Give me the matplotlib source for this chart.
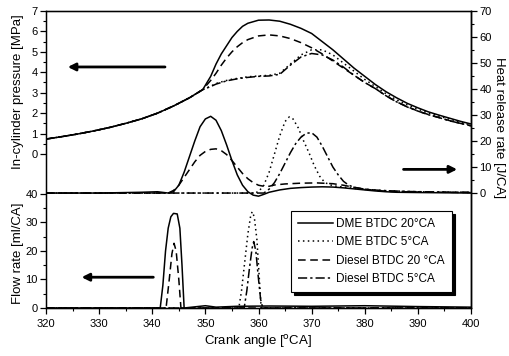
import numpy as np
import matplotlib.pyplot as plt

plt.rcParams['font.family'] = ['Liberation Sans', 'DejaVu Sans']
plt.rcParams['font.size'] = 8

labels = ['DME BTDC 20°CA', 'DME BTDC 5°CA', 'Diesel BTDC 20 °CA', 'Diesel BTDC 5°CA']

# in-cylinder pressure [MPa], compression part common to all runs
p_comp_x = [320, 323, 326, 329, 332, 335, 338, 341, 344, 347, 349.5]
p_comp = [0.73, 0.85, 0.98, 1.13, 1.3, 1.5, 1.72, 2.0, 2.35, 2.75, 3.15]

p_comb_x = [351, 352, 353, 354, 355, 356, 357, 358, 360, 362, 364, 366, 368, 370, 372,
            374, 376, 378, 380, 382, 384, 386, 388, 390, 392, 394, 396, 398, 400]
p_dme20 = [3.8, 4.4, 4.9, 5.3, 5.7, 6.0, 6.25, 6.4, 6.55, 6.56, 6.5, 6.35, 6.15, 5.9, 5.5,
           5.1, 4.65, 4.2, 3.8, 3.4, 3.05, 2.75, 2.48, 2.26, 2.06, 1.9, 1.75, 1.6, 1.47]
p_dme5 = [3.32, 3.45, 3.53, 3.6, 3.66, 3.7, 3.74, 3.78, 3.82, 3.85, 3.95, 4.4, 4.85, 5.1, 5.1,
          4.85, 4.45, 4.05, 3.65, 3.3, 2.95, 2.65, 2.4, 2.2, 2.0, 1.85, 1.7, 1.55, 1.42]
p_die20 = [3.6, 3.95, 4.35, 4.7, 5.0, 5.25, 5.45, 5.6, 5.78, 5.83, 5.78, 5.65, 5.45, 5.2, 4.9,
           4.55, 4.2, 3.85, 3.5, 3.2, 2.85, 2.55, 2.32, 2.1, 1.93, 1.78, 1.63, 1.5, 1.38]
p_die5 = [3.3, 3.42, 3.5, 3.58, 3.63, 3.68, 3.72, 3.75, 3.8, 3.82, 3.9, 4.35, 4.75, 4.92, 4.85,
          4.6, 4.25, 3.85, 3.5, 3.2, 2.85, 2.55, 2.3, 2.1, 1.92, 1.78, 1.62, 1.5, 1.38]

# heat release rate [J/CA]
h_dme20_x = [320, 330, 338, 341, 343, 344, 345, 346, 347, 348, 349, 350, 351, 352, 353, 354, 355,
             356, 357, 358, 359, 360, 361, 362, 364, 366, 368, 370, 372, 374, 376, 378, 380,
             382, 384, 386, 390, 400]
h_dme20 = [0, 0, 0.3, 0.5, 0, 0.5, 3, 8, 14, 20, 25.5, 28.5, 29.5, 28, 24, 18.5, 12.5,
           7, 3, 0.5, -0.8, -1.2, -0.5, 0.3, 1.2, 1.8, 2.1, 2.3, 2.4, 2.3, 2.0, 1.6, 1.2,
           0.8, 0.5, 0.3, 0.2, 0]
h_die20_x = [320, 343, 344, 345, 346, 347, 348, 349, 350, 351, 352, 353, 354, 355, 356, 357,
             358, 359, 360, 361, 362, 363, 365, 368, 371, 374, 376, 378, 380, 382, 385, 390,
             395, 400]
h_die20 = [0, 0, 1, 3, 6, 9, 12, 14.5, 16, 16.8, 17, 16.3, 14.8, 12.5, 10, 7.5,
           5.5, 4, 3, 2.6, 2.6, 3.1, 3.5, 3.8, 3.9, 3.6, 3.0, 2.2, 1.5, 1.0, 0.6, 0.4,
           0.3, 0.2]
h_dme5_x = [320, 359, 360, 361, 362, 363, 364, 365, 365.8, 366.5, 367.5, 368.5, 369.5, 370.5,
            371.5, 372.5, 374, 376, 378, 380, 384, 390, 400]
h_dme5 = [0, 0, 0.5, 3, 8, 15, 22, 27.5, 29.3, 28.5, 25, 20, 15.5, 10.5,
          6.5, 4, 2.8, 2.3, 1.8, 1.4, 0.9, 0.5, 0.2]
h_die5_x = [320, 361, 362, 363, 364, 365, 366, 367, 368, 369, 370, 371, 372, 373, 374, 375,
            376, 377, 378, 380, 383, 388, 394, 400]
h_die5 = [0, 0, 1.5, 4, 7.5, 11.5, 15.5, 19, 21.5, 23, 23.2, 21.5, 18, 14, 10, 7,
          4.5, 3, 2.2, 1.5, 1, 0.6, 0.4, 0.3]

# injection flow rate [ml/CA]
f_dme20_x = [320, 341.5, 342, 342.5, 343, 343.5, 344, 344.7, 345.2, 345.6, 346, 350, 352,
             356, 362, 370, 380, 390, 400]
f_dme20 = [0, 0, 8, 20, 28, 32, 33.2, 33, 28, 15, 0, 0.8, 0.3, 0.6, 0.7, 0.6, 0.8, 0.5, 0.3]
f_die20_x = [320, 342.6, 343.2, 343.7, 344.1, 344.5, 345, 345.4, 400]
f_die20 = [0, 0, 10, 19, 22.7, 20, 10, 0, 0]
f_dme5_x = [320, 356.3, 356.8, 357.4, 358, 358.5, 358.8, 359.2, 359.7, 360.1, 360.5, 400]
f_dme5 = [0, 0, 6, 16, 26, 32, 33.8, 32, 24, 12, 0, 0]
f_die5_x = [320, 357.3, 357.8, 358.3, 358.8, 359.1, 359.5, 359.9, 360.4, 360.8, 400]
f_die5 = [0, 0, 6, 14, 21, 23.3, 20, 12, 3, 0, 0]

styles = ['-', (0, (1, 2.2)), (0, (5, 3)), (0, (6, 2, 1.5, 2))]
k = 'black'
lw = 1.1

fig = plt.figure(figsize=(5.1, 3.56), dpi=100)
ax = fig.add_axes([46 / 510, 48 / 356, 425 / 510, 297 / 356])
axf = ax.twinx()
axh = ax.twinx()
axf.yaxis.set_ticks_position('left')
axf.spines['left'].set_visible(False)

ax.set_xlim(320, 400)
ax.set_ylim(-7.54, 7)
axf.set_ylim(0, 104.2)
axh.set_ylim(-44.2, 70)

# pressure
for vals, ls in zip([p_dme20, p_dme5, p_die20, p_die5], styles):
    xx = np.concatenate([p_comp_x, p_comb_x])
    yy = np.concatenate([p_comp, vals])
    ax.plot(xx, yy, color=k, lw=lw, linestyle=ls)

# heat release
for xx, yy, ls in zip([h_dme20_x, h_dme5_x, h_die20_x, h_die5_x],
                      [h_dme20, h_dme5, h_die20, h_die5], styles):
    axh.plot(xx, yy, color=k, lw=lw, linestyle=ls)

# flow rate
handles = []
for xx, yy, ls, lab in zip([f_dme20_x, f_dme5_x, f_die20_x, f_die5_x],
                           [f_dme20, f_dme5, f_die20, f_die5], styles, labels):
    l, = axf.plot(xx, yy, color=k, lw=lw, linestyle=ls, label=lab)
    handles.append(l)

# ticks
ax.set_xticks(np.arange(320, 401, 10))
ax.set_xticks(np.arange(320, 401, 5), minor=True)
ax.set_yticks(np.arange(0, 8, 1))
ax.set_yticks(np.arange(0, 7.1, 0.5), minor=True)
axf.set_yticks(np.arange(0, 41, 10))
axf.set_yticks(np.arange(0, 41, 5), minor=True)
axh.set_yticks(np.arange(0, 71, 10))
axh.set_yticks(np.arange(0, 71, 5), minor=True)
for a in (ax, axf, axh):
    a.tick_params(which='major', direction='out', length=4, width=0.9, labelsize=8, pad=2)
    a.tick_params(which='minor', direction='out', length=2, width=0.8)
ax.tick_params(axis='x', pad=4)
ax.tick_params(axis='x', which='both', top=False)
for s in ax.spines.values():
    s.set_linewidth(1.0)
axh.spines['right'].set_linewidth(1.0)

# axis labels
fig.text(258 / 510, 1 - 341 / 356, 'Crank angle [$^\\mathrm{o}$CA]', ha='center', va='center', fontsize=9.5)
fig.text(18 / 510, 1 - 92 / 356, 'In-cylinder pressure [MPa]', rotation=90, ha='center', va='center', fontsize=9.5)
fig.text(18 / 510, 1 - 253 / 356, 'Flow rate [ml/CA]', rotation=90, ha='center', va='center', fontsize=9.5)
fig.text(499 / 510, 1 - 128 / 356, 'Heat release rate [J/CA]', rotation=-90, ha='center', va='center', fontsize=9.5)

# direction arrows
arrow = dict(arrowstyle='-|>', color=k, lw=2, mutation_scale=11, shrinkA=0, shrinkB=0)
ax.annotate('', xy=(324.1, 4.26), xytext=(342.4, 4.26), arrowprops=arrow)
axh.annotate('', xy=(397.4, 9.1), xytext=(387.3, 9.1), arrowprops=arrow)
axf.annotate('', xy=(326.7, 10.8), xytext=(340.2, 10.8), arrowprops=arrow)

leg = axh.legend(handles=handles, loc='upper right', bbox_to_anchor=(0.969, 0.347),
                 fontsize=8.5, frameon=True, fancybox=False, edgecolor=k,
                 shadow={'color': 'black', 'alpha': 1}, handlelength=2.9, handletextpad=0.3,
                 labelspacing=0.55, borderpad=0.6)
leg.get_frame().set_linewidth(0.8)

fig.savefig('out.png', dpi=100)
